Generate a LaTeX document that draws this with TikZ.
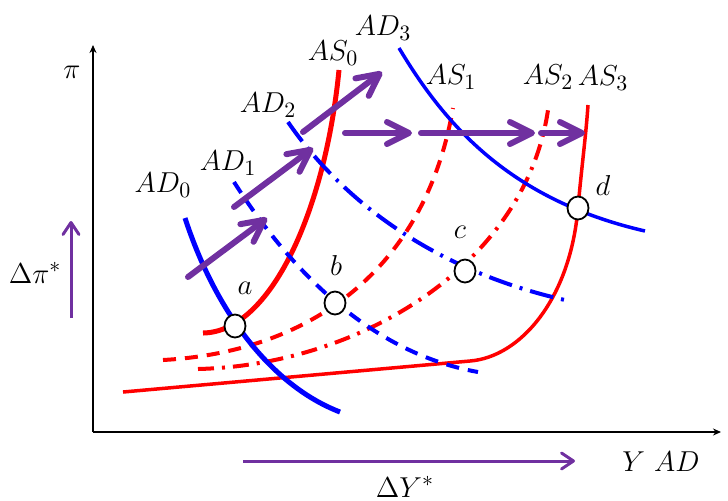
\documentclass[tikz,border=0pt]{standalone}
\usetikzlibrary{arrows.meta,shapes.geometric}
\definecolor{purp}{RGB}{112,48,160}
\definecolor{cred}{RGB}{255,0,0}
\definecolor{cblue}{RGB}{0,0,255}
\begin{document}
\begin{tikzpicture}[x=0.5pt,y=-0.5pt,
  lbl/.style={font=\fontsize{15}{18}\selectfont, inner sep=0pt},
  axis/.style={line width=1pt, -{Stealth[length=4pt,width=3.5pt]}},
  eqpt/.style={ellipse, draw=black, fill=white, line width=0.9pt, minimum width=10.5pt, minimum height=11.5pt, inner sep=0pt},
  movearr/.style={draw=purp, line width=3pt, line cap=round, -{Straight Barb[length=11pt,width=11pt,round]}},
  deltaarr/.style={draw=purp, line width=1.5pt, -{Straight Barb[length=6pt,width=8pt,round]}},
  adthick/.style={draw=cblue, line width=2.5pt},
  asthick/.style={draw=cred, line width=2.5pt},
  addash/.style={draw=cblue, line width=2pt, dash pattern=on 6.5pt off 4.5pt},
  asdash/.style={draw=cred, line width=2pt, dash pattern=on 6.5pt off 4.5pt},
  addot/.style={draw=cblue, line width=2pt, dash pattern=on 12pt off 4pt on 1.5pt off 4pt},
  asdot/.style={draw=cred, line width=2pt, dash pattern=on 8pt off 4pt on 1.5pt off 4pt},
  adthin/.style={draw=cblue, line width=1.75pt},
  asthin/.style={draw=cred, line width=1.75pt},
]
\useasboundingbox (0,0) rectangle (728,500);

% axes
\coordinate (O) at (93,432);
\coordinate (ytop) at (93,45);
\coordinate (xend) at (721,432);
\draw[axis] (O) -- (ytop);
\draw[axis] (O) -- (xend);
\node[lbl] (pilab) at (72,72) {$\pi$};
\node[lbl] (ylab) at (661,462) {$Y\ AD$};

% AS3
\draw[asthin] (123,392) -- (470,361) .. controls (520,357) and (570,300) .. (578,208) .. controls (581.5,168) and (586,135) .. (588,105);
% AS2
\draw[asdot] (198,369) .. controls (360,365) and (525,265) .. (548,110);
% AS1
\draw[asdash] (163,360) .. controls (310,352) and (425,270) .. (453,108);
% AS0
\draw[asthick] (203,333) .. controls (270,332) and (325,212) .. (339,70);

% AD0
\draw[adthick] (185,218) .. controls (215,310) and (270,385) .. (340,412);
% AD1
\draw[addash] (234,182) .. controls (285,262) and (365,352) .. (478,372);
% AD2
\draw[addot] (288,122) .. controls (345,205) and (440,272) .. (565,300);
% AD3
\draw[adthin] (399,48) .. controls (445,125) and (510,200) .. (645,231);

% curve labels
\node[lbl] (lAD0) at (163,185) {$AD_0$};
\node[lbl] (lAD1) at (228,163) {$AD_1$};
\node[lbl] (lAD2) at (268,105) {$AD_2$};
\node[lbl] (lAD3) at (383,28) {$AD_3$};
\node[lbl] (lAS0) at (333,53) {$AS_0$};
\node[lbl] (lAS1) at (451,77) {$AS_1$};
\node[lbl] (lAS2) at (548,77) {$AS_2$};
\node[lbl] (lAS3) at (603,78) {$AS_3$};

% equilibrium points
\node[eqpt] (a) at (235,326) {};
\node[eqpt] (b) at (335,303) {};
\node[eqpt] (c) at (465,271) {};
\node[eqpt] (d) at (578,208) {};
\node[lbl] (la) at (245,288) {$a$};
\node[lbl] (lb) at (336,265) {$b$};
\node[lbl] (lc) at (460,232) {$c$};
\node[lbl] (ld) at (603,185) {$d$};

% purple shift arrows
\coordinate (s1) at (188,277); \coordinate (e1) at (267,218);
\coordinate (s2) at (234,207); \coordinate (e2) at (313,148);
\coordinate (s3) at (303,132); \coordinate (e3) at (382,72);
\coordinate (s4) at (345,133); \coordinate (e4) at (412,133);
\coordinate (s5) at (421,133); \coordinate (e5) at (535,133);
\coordinate (s6) at (541,133); \coordinate (e6) at (585,133);
\draw[movearr] (s1) -- (e1);
\draw[movearr] (s2) -- (e2);
\draw[movearr] (s3) -- (e3);
\draw[movearr] (s4) -- (e4);
\draw[movearr] (s5) -- (e5);
\draw[movearr] (s6) -- (e6);

% delta arrows
\coordinate (dps) at (71,318); \coordinate (dpe) at (71,221);
\coordinate (dys) at (243,461); \coordinate (dye) at (575,461);
\draw[deltaarr] (dps) -- (dpe);
\draw[deltaarr] (dys) -- (dye);
\node[lbl] (dpilab) at (35,273) {$\Delta\pi^*$};
\node[lbl] (dylab) at (405,487) {$\Delta Y^*$};
\end{tikzpicture}
\end{document}
